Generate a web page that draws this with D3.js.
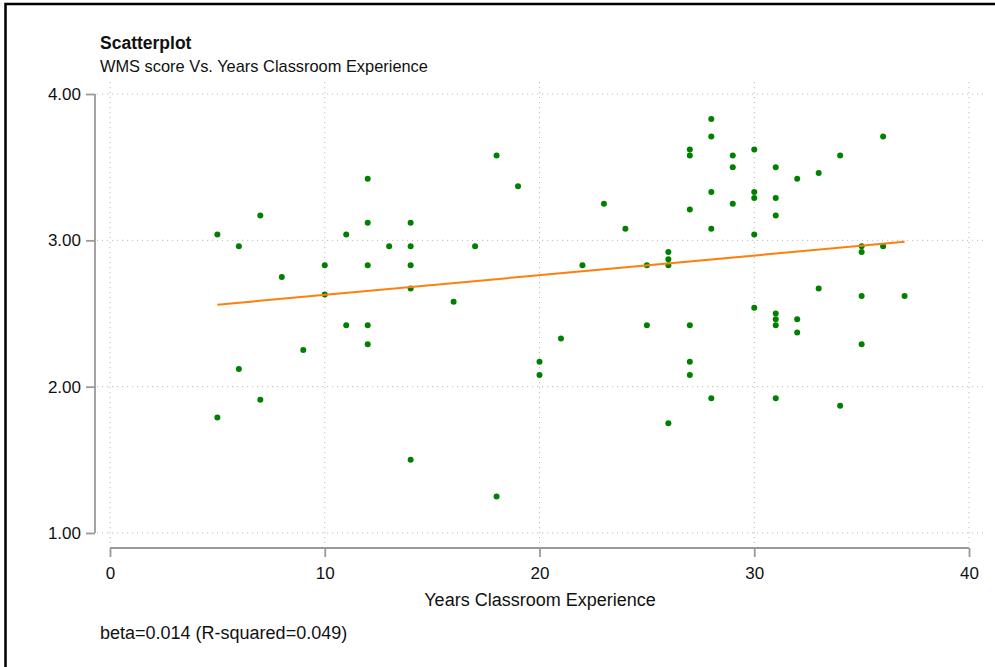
<!DOCTYPE html>
<meta charset="utf-8">
<style>
  body { margin: 0; background: #fff; }
  text { font-family: "Liberation Sans", Arial, sans-serif; fill: #111; }
</style>
<body>
<div id="vis"></div>
<script src="https://cdn.jsdelivr.net/npm/d3@7"></script>
<script>

const width = 995,
    height = 667;

const green = 'rgb(0, 128, 0)';
const orange = 'rgb(255, 127, 14)';

// years of classroom experience, one entry per teacher
const years = [5, 5, 6, 6, 7, 7, 8, 9, 10, 10, 11, 11, 12, 12, 12, 12, 12, 13, 14, 14,
  14, 14, 14, 16, 17, 18, 18, 19, 20, 20, 21, 22, 23, 24, 25, 25, 26, 26, 26, 26,
  27, 27, 27, 27, 27, 27, 28, 28, 28, 28, 28, 29, 29, 29, 30, 30, 30, 30, 30, 31,
  31, 31, 31, 31, 31, 31, 32, 32, 32, 33, 33, 34, 34, 35, 35, 35, 35, 36, 36, 37];
// WMS score, same order
const wms = [3.04, 1.79, 2.96, 2.12, 3.17, 1.91, 2.75, 2.25, 2.83, 2.63, 3.04, 2.42, 3.42, 3.12, 2.83, 2.42, 2.29, 2.96, 3.12, 2.96,
  2.83, 2.67, 1.50, 2.58, 2.96, 3.58, 1.25, 3.37, 2.17, 2.08, 2.33, 2.83, 3.25, 3.08, 2.83, 2.42, 2.92, 2.87, 2.83, 1.75,
  3.62, 3.58, 3.21, 2.42, 2.17, 2.08, 3.83, 3.71, 3.33, 3.08, 1.92, 3.58, 3.50, 3.25, 3.62, 3.33, 3.29, 3.04, 2.54, 3.50,
  3.29, 3.17, 2.50, 2.46, 2.42, 1.92, 3.42, 2.46, 2.37, 3.46, 2.67, 3.58, 1.87, 2.96, 2.92, 2.62, 2.29, 3.71, 2.96, 2.62];

// fitted line end points
const fitX = [5, 37];
const fitY = [2.56, 2.99];

const xTicks = [0, 10, 20, 30, 40];
const yTicks = [1, 2, 3, 4];

const svg = d3.select('#vis')
    .append('svg')
    .attr('width', width)
    .attr('height', height);

// frame around the figure (cut off at right and bottom)
svg.append('rect')
    .attr('x', 5.5)
    .attr('y', 4)
    .attr('width', 1200)
    .attr('height', 1000)
    .style('fill', 'none')
    .style('stroke', '#000')
    .style('stroke-width', 2.5);

const x = d3.scaleLinear().domain([0, 40]).range([110, 969]);
const y = d3.scaleLinear().domain([1, 4]).range([533, 94]);

// grid
const gridG = svg.append('g').attr('class', 'grid');
gridG.selectAll('.hgrid')
    .data(yTicks)
    .enter().append('line')
    .attr('class', 'hgrid')
    .attr('x1', 97).attr('x2', 983)
    .attr('y1', d => y(d)).attr('y2', d => y(d))
    .style('stroke', '#bbb')
    .style('stroke-dasharray', '1.2,3.8');
gridG.selectAll('.vgrid')
    .data(xTicks)
    .enter().append('line')
    .attr('class', 'vgrid')
    .attr('y1', 82).attr('y2', 543)
    .attr('x1', d => x(d)).attr('x2', d => x(d))
    .style('stroke', '#bbb')
    .style('stroke-dasharray', '1.2,3.8');

// axes
const yAxis = svg.append('g')
    .attr('transform', 'translate(95,0)')
    .call(d3.axisLeft(y).tickValues(yTicks).tickFormat(d3.format('.2f')).tickSize(9).tickSizeOuter(0).tickPadding(5));
const xAxis = svg.append('g')
    .attr('transform', 'translate(0,548)')
    .call(d3.axisBottom(x).tickValues(xTicks).tickSize(9).tickSizeOuter(0).tickPadding(10));
[xAxis, yAxis].forEach(a => {
  a.select('.domain').style('stroke', '#999').style('stroke-width', 1.8);
  a.selectAll('.tick line').style('stroke', '#999').style('stroke-width', 1.8);
  a.selectAll('.tick text')
      .style('font-family', '"Liberation Sans", Arial, sans-serif')
      .style('font-size', '17px')
      .style('fill', '#111');
});
yAxis.select('.domain').attr('d', 'M0,' + y(4) + 'V' + y(1));
xAxis.select('.domain').attr('d', 'M' + x(0) + ',0H' + x(40));

// points
svg.append('g').selectAll('.dot')
    .data(years.map((d, i) => [d, wms[i]]))
    .enter().append('circle')
    .attr('class', 'dot')
    .attr('cx', d => x(d[0]))
    .attr('cy', d => y(d[1]))
    .attr('r', 3)
    .style('fill', green);

// fit line
const line = d3.line()
    .x(d => x(d[0]))
    .y(d => y(d[1]));
svg.append('path')
    .attr('d', line(fitX.map((d, i) => [d, fitY[i]])))
    .style('fill', 'none')
    .style('stroke', orange)
    .style('stroke-width', 2);

// texts
svg.append('text')
    .attr('x', 100).attr('y', 49)
    .style('font-size', '17.5px')
    .style('font-weight', 'bold')
    .text('Scatterplot');
svg.append('text')
    .attr('x', 100).attr('y', 72)
    .style('font-size', '16.4px')
    .text('WMS score Vs. Years Classroom Experience');
svg.append('text')
    .attr('x', 540).attr('y', 606)
    .style('font-size', '18px')
    .style('text-anchor', 'middle')
    .text('Years Classroom Experience');
svg.append('text')
    .attr('x', 100).attr('y', 639)
    .style('font-size', '18px')
    .text('beta=0.014 (R-squared=0.049)');

</script>
</body>
